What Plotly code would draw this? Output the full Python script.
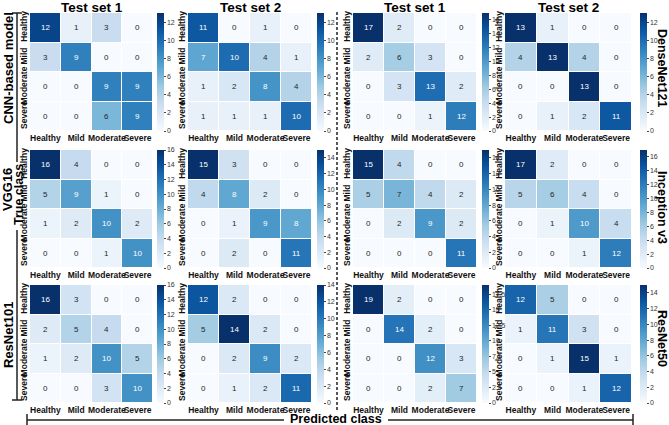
import plotly.graph_objects as go
from plotly.colors import sequential

classes = ["Healthy", "Mild", "Moderate", "Severe"]
col_titles = ["Test set 1", "Test set 2", "Test set 1", "Test set 2"]
left_models = ["CNN-based model", "VGG16", "ResNet101"]
right_models = ["DenseNet121", "Inception v3", "ResNet50"]

cnn_t1 = [[12, 1, 3, 0], [3, 9, 0, 0], [0, 0, 9, 9], [0, 0, 6, 9]]
cnn_t2 = [[11, 0, 1, 0], [7, 10, 4, 1], [1, 2, 8, 4], [1, 1, 1, 10]]
dense_t1 = [[17, 2, 0, 0], [2, 6, 3, 0], [0, 3, 13, 2], [0, 0, 1, 12]]
dense_t2 = [[13, 1, 0, 0], [4, 13, 4, 0], [0, 0, 13, 0], [0, 1, 2, 11]]
vgg_t1 = [[16, 4, 0, 0], [5, 9, 1, 0], [1, 2, 10, 2], [0, 0, 1, 10]]
vgg_t2 = [[15, 3, 0, 0], [4, 8, 2, 0], [0, 1, 9, 8], [0, 2, 0, 11]]
incep_t1 = [[15, 4, 0, 0], [5, 7, 4, 2], [0, 2, 9, 2], [0, 0, 0, 11]]
incep_t2 = [[17, 2, 0, 0], [5, 6, 4, 0], [0, 1, 10, 4], [0, 0, 1, 12]]
res101_t1 = [[16, 3, 0, 0], [2, 5, 4, 0], [1, 2, 10, 5], [0, 0, 3, 10]]
res101_t2 = [[12, 2, 0, 0], [5, 14, 2, 0], [0, 2, 9, 2], [0, 1, 2, 11]]
res50_t1 = [[19, 2, 0, 0], [0, 14, 2, 0], [0, 0, 12, 3], [0, 0, 2, 7]]
res50_t2 = [[12, 5, 0, 0], [1, 11, 3, 0], [0, 1, 15, 1], [0, 0, 1, 12]]

matrices = [
    [cnn_t1, cnn_t2, dense_t1, dense_t2],
    [vgg_t1, vgg_t2, incep_t1, incep_t2],
    [res101_t1, res101_t2, res50_t1, res50_t2],
]
# colour-bar tops (as seen on the colour bars)
cbar_top = [[13, 13, 17, 13], [16, 15, 15, 17], [16, 14, 19, 15]]
cbar_dtick = [[2, 2, 2, 2], [2, 2, 2, 2], [2, 2, 2.5, 2]]

W, H = 669, 425
col_px = [(30, 153), (188, 312), (353, 477), (505, 632)]
row_px = [(13, 131), (150, 268), (285, 403)]
cbar_x_px = [157, 317, 482, 640]

blues = list(sequential.Blues)
blues_rgb = [tuple(int(v) for v in c[4:-1].split(",")) for c in blues]
scale = [[i / (len(blues) - 1), c] for i, c in enumerate(blues)]


def color_at(t):
    t = min(max(t, 0), 1) * (len(blues_rgb) - 1)
    i = min(int(t), len(blues_rgb) - 2)
    f = t - i
    a, b = blues_rgb[i], blues_rgb[i + 1]
    return [a[k] + (b[k] - a[k]) * f for k in range(3)]


def rel_lum(rgb):
    out = []
    for v in rgb:
        v = v / 255
        out.append(v / 12.92 if v <= 0.03928 else ((v + 0.055) / 1.055) ** 2.4)
    return 0.2126 * out[0] + 0.7152 * out[1] + 0.0722 * out[2]


FONT = "Liberation Sans, Arial, sans-serif"
fig = go.Figure()
annotations = []
n = 0
for r in range(3):
    for c in range(4):
        n += 1
        z = matrices[r][c]
        top = cbar_top[r][c]
        xs = "x" if n == 1 else f"x{n}"
        ys = "y" if n == 1 else f"y{n}"
        x0, x1 = col_px[c]
        y0, y1 = row_px[r]
        fig.add_trace(go.Heatmap(
            z=z, x=classes, y=classes, xaxis=xs, yaxis=ys,
            colorscale=scale, zmin=0, zmax=top, xgap=1, ygap=1,
            hoverinfo="skip",
            colorbar=dict(
                x=cbar_x_px[c] / W, xanchor="left", xpad=0, ypad=0,
                y=1 - (y0 + y1) / 2 / H, yanchor="middle",
                len=(y1 - y0) / H, lenmode="fraction", thickness=7,
                outlinewidth=0, tick0=0, dtick=cbar_dtick[r][c],
                ticks="outside", ticklen=2, tickcolor="#444",
                tickfont=dict(size=7, color="#333", family=FONT),
            ),
        ))
        fig.layout[f"xaxis{'' if n == 1 else n}"] = dict(
            domain=[x0 / W, x1 / W], anchor=ys, showgrid=False, zeroline=False,
            showline=False, ticks="", tickangle=0, automargin=False,
            tickfont=dict(size=8.5, color="#111", family=FONT),
            tickprefix="<b>", ticksuffix="</b>",
        )
        fig.layout[f"yaxis{'' if n == 1 else n}"] = dict(
            domain=[1 - y1 / H, 1 - y0 / H], anchor=xs, showgrid=False, zeroline=False,
            showline=False, ticks="", autorange="reversed", tickangle=-90,
            automargin=False,
            tickfont=dict(size=8.5, color="#111", family=FONT),
            tickprefix="<b>", ticksuffix="</b>",
        )
        for i, row in enumerate(z):
            for j, v in enumerate(row):
                lum = rel_lum(color_at(v / top))
                annotations.append(dict(
                    x=classes[j], y=classes[i], xref=xs, yref=ys, text=str(v),
                    showarrow=False, xanchor="center", yanchor="middle",
                    font=dict(size=8, family=FONT,
                              color="rgb(38,38,38)" if lum > 0.408 else "white"),
                ))


def label(text, xp, yp, size, angle=0):
    annotations.append(dict(x=xp / W, y=1 - yp / H, xref="paper", yref="paper",
                            text=f"<b>{text}</b>", showarrow=False, textangle=angle,
                            xanchor="center", yanchor="middle",
                            font=dict(size=size, color="black", family=FONT)))


# column titles
for c, t in enumerate(col_titles):
    x0, x1 = col_px[c]
    label(t, (x0 + x1) / 2, 7, 13.5)

# left model labels
for t, yy in zip(left_models, [68, 190, 335]):
    label(t, 8, yy, 13, -90)
label("True class", 19, 195, 12.5, -90)
# right model labels
for t, yy in zip(right_models, [68, 207, 338]):
    label(t, 662, yy, 12.5, 90)
label("Predicted class", 336, 419, 12.5)


def pline(xa, ya, xb, yb, dash=None, width=1.5):
    return dict(type="line", xref="paper", yref="paper",
                x0=xa / W, y0=1 - ya / H, x1=xb / W, y1=1 - yb / H,
                line=dict(color="#222", width=width, dash=dash))


shapes = [
    pline(17, 13, 17, 162), pline(12, 13, 22, 13),
    pline(17, 230, 17, 400), pline(12, 400, 22, 400),
    pline(27, 420, 284, 420), pline(27, 414, 27, 426),
    pline(388, 420, 633, 420), pline(633, 414, 633, 426),
    pline(337, 12, 337, 412, dash="3px,2px", width=1.5),
]

fig.update_layout(
    width=W, height=H, margin=dict(l=0, r=0, t=0, b=0, autoexpand=False),
    paper_bgcolor="white", plot_bgcolor="white",
    annotations=annotations, shapes=shapes, showlegend=False,
    font=dict(family=FONT),
)
fig.write_html(
    "out.html",
    config={"displayModeBar": False},
    post_script="document.body.style.margin='0';document.body.style.overflow='hidden';",
)
